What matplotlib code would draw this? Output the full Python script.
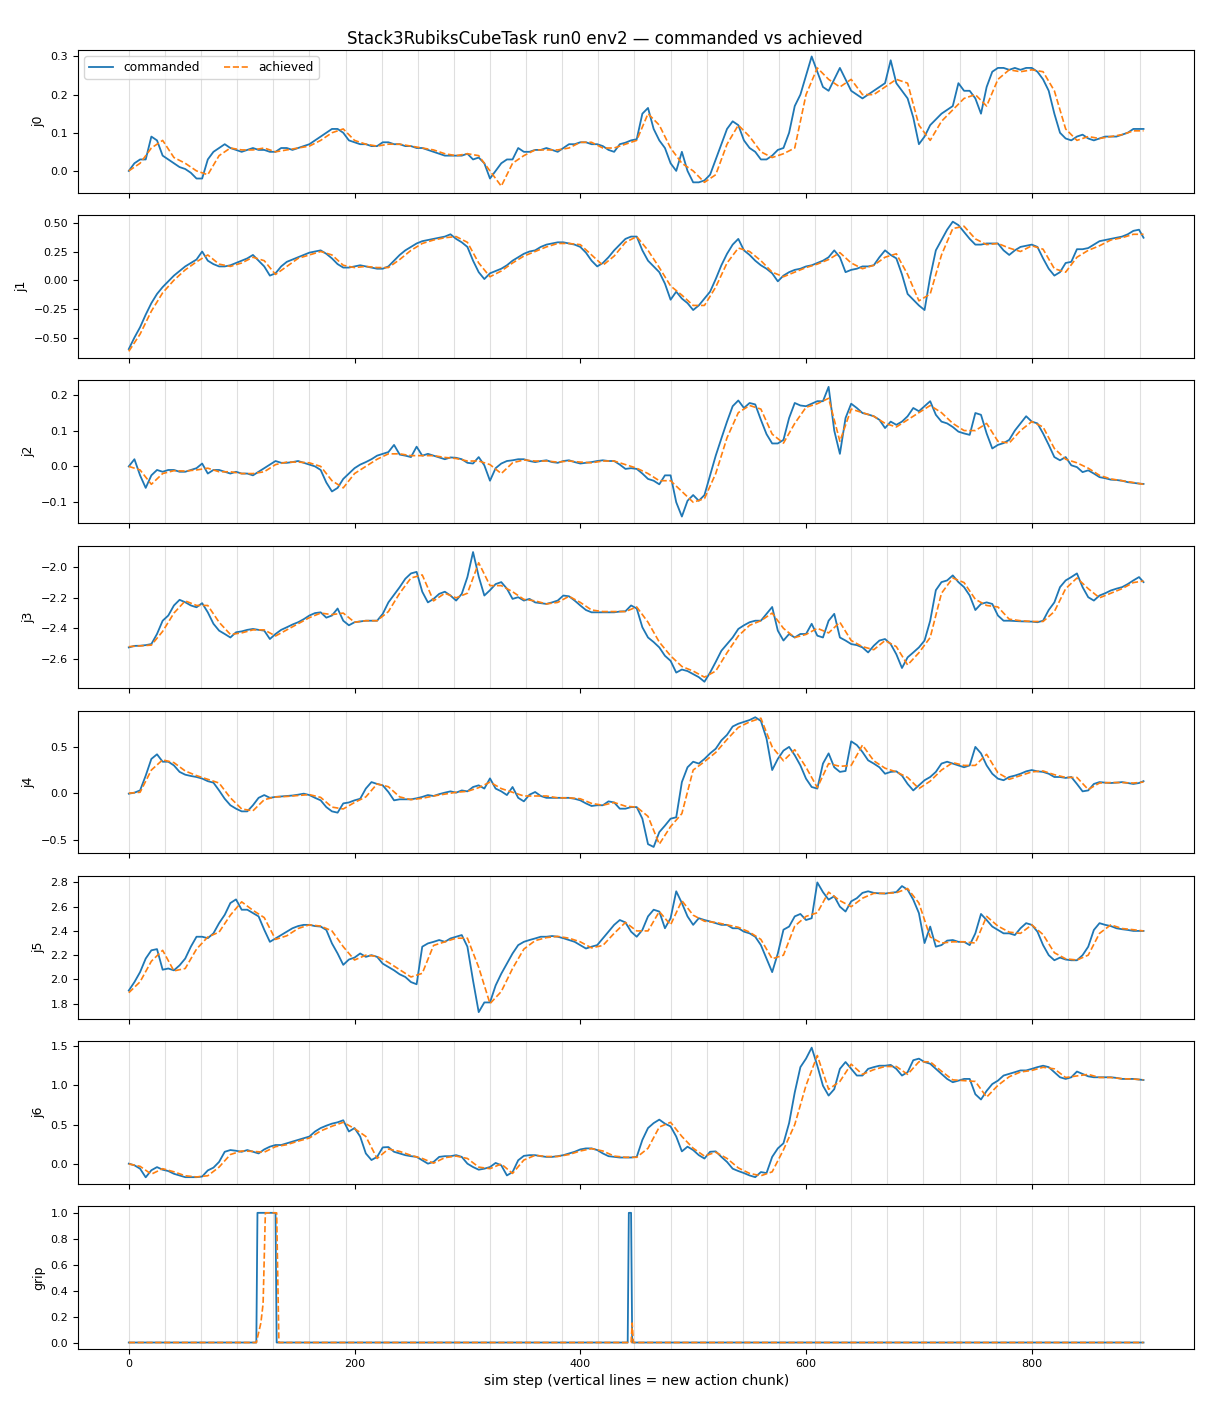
import numpy as np
import matplotlib
matplotlib.use("Agg")
import matplotlib.pyplot as plt

TITLE = "Stack3RubiksCubeTask run0 env2 \u2014 commanded vs achieved"
XLABEL = "sim step (vertical lines = new action chunk)"
JOINT_NAMES = ["j0", "j1", "j2", "j3", "j4", "j5", "j6"]
LAST_STEP = 899
CHUNK_LEN = 32
CMD_STEP = 5    # commanded values read every 5 sim steps
ACH_STEP = 10   # achieved values read every 10 sim steps

# ---------------- commanded (every 5 steps, last = step 899) ----------------
j0_cmd = [
    0.00, 0.02, 0.03, 0.03, 0.09, 0.08, 0.04, 0.03, 0.02, 0.01,
    0.005, -0.005, -0.02, -0.02, 0.03, 0.05, 0.06, 0.07, 0.06, 0.055,
    0.05, 0.055, 0.06, 0.055, 0.055, 0.05, 0.05, 0.06, 0.06, 0.055,
    0.06, 0.065, 0.07, 0.08, 0.09, 0.10, 0.11, 0.11, 0.10, 0.08,
    0.075, 0.07, 0.07, 0.065, 0.065, 0.075, 0.075, 0.07, 0.07, 0.065,
    0.065, 0.06, 0.06, 0.055, 0.05, 0.045, 0.04, 0.04, 0.04, 0.04,
    0.045, 0.03, 0.035, 0.02, -0.02, 0.0, 0.02, 0.03, 0.03, 0.06,
    0.05, 0.05, 0.055, 0.055, 0.06, 0.055, 0.05, 0.06, 0.07, 0.07,
    0.075, 0.075, 0.07, 0.07, 0.065, 0.055, 0.05, 0.07, 0.074, 0.08,
    0.083, 0.15, 0.165, 0.11, 0.08, 0.06, 0.02, 0.0, 0.05, 0.0,
    -0.03, -0.03, -0.025, -0.01, 0.03, 0.07, 0.11, 0.13, 0.12, 0.08,
    0.06, 0.05, 0.03, 0.03, 0.04, 0.055, 0.06, 0.10, 0.17, 0.20,
    0.25, 0.30, 0.26, 0.22, 0.21, 0.24, 0.27, 0.24, 0.21, 0.20,
    0.19, 0.20, 0.21, 0.22, 0.23, 0.29, 0.23, 0.21, 0.19, 0.14,
    0.07, 0.09, 0.12, 0.135, 0.15, 0.16, 0.17, 0.23, 0.21, 0.21,
    0.19, 0.15, 0.22, 0.26, 0.27, 0.27, 0.265, 0.27, 0.265, 0.27,
    0.27, 0.26, 0.24, 0.21, 0.15, 0.10, 0.085, 0.08, 0.09, 0.095,
    0.085, 0.08, 0.085, 0.09, 0.09, 0.09, 0.095, 0.10, 0.11, 0.11,
    0.11,
]
j1_cmd = [
    -0.60, -0.50, -0.41, -0.30, -0.20, -0.12, -0.06, -0.01, 0.04, 0.08,
    0.12, 0.15, 0.18, 0.25, 0.17, 0.14, 0.12, 0.12, 0.13, 0.15,
    0.17, 0.19, 0.22, 0.17, 0.12, 0.04, 0.06, 0.12, 0.16, 0.18,
    0.20, 0.22, 0.24, 0.25, 0.26, 0.23, 0.19, 0.14, 0.11, 0.11,
    0.12, 0.13, 0.12, 0.11, 0.10, 0.10, 0.12, 0.17, 0.22, 0.26,
    0.29, 0.32, 0.34, 0.35, 0.36, 0.37, 0.38, 0.40, 0.36, 0.33,
    0.29, 0.17, 0.07, 0.01, 0.06, 0.08, 0.10, 0.13, 0.17, 0.20,
    0.23, 0.25, 0.26, 0.29, 0.31, 0.32, 0.33, 0.33, 0.32, 0.31,
    0.29, 0.24, 0.17, 0.12, 0.15, 0.20, 0.26, 0.31, 0.36, 0.38,
    0.38, 0.26, 0.17, 0.12, 0.07, -0.03, -0.17, -0.10, -0.16, -0.20,
    -0.26, -0.22, -0.16, -0.10, 0.01, 0.13, 0.23, 0.31, 0.36, 0.26,
    0.22, 0.17, 0.13, 0.10, 0.06, -0.01, 0.04, 0.07, 0.09, 0.10,
    0.12, 0.13, 0.15, 0.17, 0.20, 0.26, 0.20, 0.07, 0.09, 0.10,
    0.12, 0.12, 0.13, 0.20, 0.26, 0.22, 0.19, 0.05, -0.12, -0.17,
    -0.22, -0.26, 0.03, 0.26, 0.35, 0.44, 0.51, 0.48, 0.42, 0.36,
    0.31, 0.31, 0.32, 0.32, 0.32, 0.26, 0.22, 0.26, 0.29, 0.30,
    0.31, 0.29, 0.19, 0.10, 0.04, 0.07, 0.15, 0.16, 0.27, 0.27,
    0.28, 0.31, 0.34, 0.35, 0.36, 0.37, 0.38, 0.40, 0.43, 0.44,
    0.37,
]
j2_cmd = [
    0.0, 0.02, -0.025, -0.06, -0.025, -0.01, -0.015, -0.01, -0.01, -0.015,
    -0.015, -0.01, -0.005, 0.008, -0.02, -0.01, -0.01, -0.015, -0.02, -0.015,
    -0.02, -0.02, -0.025, -0.015, -0.005, 0.005, 0.015, 0.01, 0.01, 0.012,
    0.015, 0.01, 0.005, 0.0, -0.01, -0.045, -0.07, -0.06, -0.035, -0.02,
    -0.005, 0.005, 0.012, 0.02, 0.03, 0.035, 0.04, 0.06, 0.033, 0.03,
    0.026, 0.055, 0.03, 0.035, 0.03, 0.025, 0.02, 0.025, 0.024, 0.02,
    0.01, 0.008, 0.026, 0.003, -0.04, -0.005, 0.008, 0.015, 0.017, 0.02,
    0.02, 0.015, 0.012, 0.015, 0.017, 0.012, 0.01, 0.015, 0.017, 0.012,
    0.008, 0.01, 0.012, 0.015, 0.017, 0.015, 0.015, 0.005, -0.007, -0.005,
    -0.007, -0.02, -0.035, -0.04, -0.05, -0.025, -0.025, -0.10, -0.14, -0.096,
    -0.08, -0.096, -0.08, -0.025, 0.03, 0.078, 0.125, 0.168, 0.184, 0.163,
    0.177, 0.173, 0.13, 0.09, 0.064, 0.064, 0.074, 0.135, 0.177, 0.17,
    0.168, 0.175, 0.182, 0.182, 0.222, 0.10, 0.035, 0.135, 0.175, 0.163,
    0.149, 0.145, 0.14, 0.13, 0.107, 0.125, 0.116, 0.125, 0.14, 0.163,
    0.154, 0.168, 0.182, 0.144, 0.125, 0.12, 0.11, 0.097, 0.092, 0.088,
    0.149, 0.144, 0.092, 0.05, 0.06, 0.065, 0.074, 0.10, 0.12, 0.14,
    0.125, 0.12, 0.092, 0.06, 0.026, 0.017, 0.026, 0.003, -0.002, -0.016,
    -0.011, -0.02, -0.03, -0.033, -0.037, -0.038, -0.04, -0.044, -0.046, -0.048,
    -0.049,
]
j3_cmd = [
    -2.525, -2.515, -2.514, -2.51, -2.503, -2.437, -2.35, -2.316, -2.25, -2.213,
    -2.229, -2.25, -2.262, -2.235, -2.295, -2.37, -2.415, -2.437, -2.46, -2.426,
    -2.42, -2.41, -2.404, -2.41, -2.415, -2.47, -2.437, -2.41, -2.393, -2.375,
    -2.36, -2.34, -2.316, -2.30, -2.295, -2.33, -2.316, -2.27, -2.35, -2.38,
    -2.36, -2.355, -2.35, -2.35, -2.35, -2.305, -2.23, -2.18, -2.13, -2.075,
    -2.04, -2.03, -2.16, -2.23, -2.207, -2.174, -2.16, -2.185, -2.218, -2.174,
    -2.064, -1.90, -2.06, -2.185, -2.15, -2.11, -2.097, -2.14, -2.207, -2.196,
    -2.218, -2.207, -2.23, -2.235, -2.24, -2.23, -2.218, -2.185, -2.19, -2.218,
    -2.25, -2.28, -2.295, -2.295, -2.295, -2.295, -2.295, -2.29, -2.288, -2.25,
    -2.27, -2.393, -2.46, -2.49, -2.525, -2.58, -2.613, -2.69, -2.67, -2.68,
    -2.70, -2.72, -2.75, -2.69, -2.62, -2.547, -2.503, -2.46, -2.404, -2.38,
    -2.36, -2.35, -2.35, -2.305, -2.26, -2.415, -2.48, -2.437, -2.46, -2.437,
    -2.437, -2.37, -2.448, -2.46, -2.35, -2.305, -2.46, -2.48, -2.503, -2.51,
    -2.525, -2.558, -2.514, -2.48, -2.47, -2.503, -2.57, -2.66, -2.59, -2.558,
    -2.525, -2.48, -2.35, -2.15, -2.097, -2.086, -2.053, -2.097, -2.13, -2.185,
    -2.28, -2.24, -2.23, -2.24, -2.316, -2.35, -2.35, -2.352, -2.354, -2.355,
    -2.356, -2.36, -2.35, -2.28, -2.23, -2.13, -2.086, -2.064, -2.04, -2.13,
    -2.196, -2.218, -2.185, -2.17, -2.152, -2.14, -2.13, -2.11, -2.086, -2.064,
    -2.097,
]
j4_cmd = [
    -0.005, 0.006, 0.03, 0.19, 0.37, 0.42, 0.34, 0.34, 0.30, 0.23,
    0.20, 0.186, 0.175, 0.158, 0.13, 0.114, 0.03, -0.06, -0.13, -0.167,
    -0.196, -0.196, -0.13, -0.05, -0.02, -0.05, -0.04, -0.035, -0.03, -0.025,
    -0.016, -0.005, -0.02, -0.05, -0.077, -0.15, -0.196, -0.21, -0.11, -0.10,
    -0.077, -0.06, 0.05, 0.12, 0.10, 0.085, 0.013, -0.077, -0.066, -0.066,
    -0.066, -0.055, -0.04, -0.02, -0.03, -0.01, 0.006, 0.02, 0.006, 0.03,
    0.02, 0.067, 0.085, 0.05, 0.16, 0.05, 0.02, -0.02, 0.067, -0.05,
    -0.088, -0.016, 0.013, -0.03, -0.05, -0.05, -0.05, -0.05, -0.05, -0.06,
    -0.077, -0.11, -0.138, -0.13, -0.13, -0.088, -0.10, -0.167, -0.167, -0.15,
    -0.15, -0.275, -0.55, -0.58, -0.42, -0.35, -0.275, -0.26, 0.12, 0.28,
    0.34, 0.32, 0.37, 0.43, 0.48, 0.57, 0.63, 0.72, 0.75, 0.77,
    0.79, 0.82, 0.78, 0.59, 0.25, 0.37, 0.46, 0.50, 0.41, 0.30,
    0.157, 0.067, 0.05, 0.32, 0.43, 0.28, 0.23, 0.24, 0.56, 0.52,
    0.445, 0.355, 0.32, 0.28, 0.21, 0.23, 0.236, 0.19, 0.10, 0.03,
    0.085, 0.14, 0.175, 0.23, 0.32, 0.34, 0.32, 0.30, 0.28, 0.30,
    0.50, 0.43, 0.30, 0.21, 0.157, 0.14, 0.175, 0.19, 0.21, 0.236,
    0.25, 0.236, 0.23, 0.21, 0.175, 0.175, 0.165, 0.175, 0.10, 0.02,
    0.03, 0.10, 0.12, 0.114, 0.11, 0.114, 0.12, 0.11, 0.10, 0.11,
    0.13,
]
j5_cmd = [
    1.908, 1.978, 2.06, 2.172, 2.24, 2.25, 2.08, 2.09, 2.075, 2.116,
    2.172, 2.27, 2.352, 2.352, 2.34, 2.38, 2.464, 2.533, 2.63, 2.66,
    2.575, 2.575, 2.547, 2.52, 2.41, 2.31, 2.338, 2.366, 2.394, 2.422,
    2.44, 2.45, 2.45, 2.44, 2.436, 2.408, 2.297, 2.214, 2.12, 2.164,
    2.18, 2.214, 2.186, 2.20, 2.186, 2.13, 2.103, 2.075, 2.042, 2.02,
    1.978, 1.96, 2.27, 2.297, 2.31, 2.325, 2.31, 2.338, 2.352, 2.366,
    2.27, 1.99, 1.73, 1.81, 1.81, 1.95, 2.047, 2.13, 2.214, 2.283,
    2.31, 2.325, 2.338, 2.352, 2.352, 2.358, 2.352, 2.34, 2.325, 2.31,
    2.283, 2.255, 2.27, 2.283, 2.338, 2.394, 2.45, 2.49, 2.47, 2.394,
    2.352, 2.408, 2.52, 2.575, 2.56, 2.422, 2.505, 2.727, 2.63, 2.52,
    2.45, 2.505, 2.49, 2.478, 2.464, 2.45, 2.45, 2.422, 2.422, 2.394,
    2.38, 2.352, 2.283, 2.172, 2.06, 2.214, 2.41, 2.436, 2.52, 2.54,
    2.49, 2.505, 2.80, 2.72, 2.658, 2.686, 2.60, 2.56, 2.644, 2.67,
    2.714, 2.727, 2.714, 2.71, 2.708, 2.715, 2.72, 2.77, 2.74, 2.658,
    2.547, 2.30, 2.436, 2.27, 2.283, 2.32, 2.325, 2.31, 2.31, 2.283,
    2.38, 2.54, 2.49, 2.436, 2.408, 2.38, 2.38, 2.366, 2.422, 2.464,
    2.45, 2.394, 2.283, 2.20, 2.158, 2.18, 2.164, 2.158, 2.158, 2.20,
    2.27, 2.408, 2.464, 2.45, 2.44, 2.422, 2.414, 2.408, 2.40, 2.40,
    2.40,
]
j6_cmd = [
    0.004, -0.017, -0.06, -0.17, -0.08, -0.04, -0.073, -0.09, -0.125, -0.146,
    -0.168, -0.168, -0.168, -0.16, -0.082, -0.047, 0.026, 0.155, 0.177, 0.168,
    0.155, 0.177, 0.155, 0.134, 0.185, 0.22, 0.241, 0.241, 0.263, 0.284,
    0.306, 0.327, 0.349, 0.413, 0.457, 0.487, 0.513, 0.53, 0.556, 0.413,
    0.457, 0.349, 0.134, 0.05, 0.09, 0.211, 0.215, 0.155, 0.134, 0.112,
    0.099, 0.09, 0.047, 0.004, 0.026, 0.09, 0.099, 0.099, 0.112, 0.09,
    0.004, -0.039, -0.073, -0.06, -0.039, 0.013, -0.017, -0.146, -0.103, 0.047,
    0.103, 0.112, 0.112, 0.099, 0.09, 0.09, 0.099, 0.112, 0.134, 0.155,
    0.185, 0.198, 0.198, 0.177, 0.134, 0.099, 0.09, 0.082, 0.082, 0.082,
    0.09, 0.306, 0.457, 0.52, 0.564, 0.513, 0.478, 0.349, 0.16, 0.22,
    0.177, 0.112, 0.069, 0.155, 0.16, 0.09, 0.026, -0.06, -0.09, -0.116,
    -0.146, -0.168, -0.103, -0.116, 0.09, 0.198, 0.263, 0.52, 0.91, 1.232,
    1.34, 1.48, 1.25, 0.995, 0.87, 0.952, 1.21, 1.297, 1.21, 1.125,
    1.125, 1.21, 1.232, 1.25, 1.25, 1.26, 1.21, 1.125, 1.168, 1.32,
    1.34, 1.297, 1.275, 1.21, 1.146, 1.082, 1.04, 1.06, 1.082, 1.082,
    0.887, 0.82, 0.93, 1.017, 1.06, 1.125, 1.146, 1.168, 1.19, 1.19,
    1.21, 1.232, 1.25, 1.232, 1.168, 1.103, 1.082, 1.103, 1.176, 1.146,
    1.115, 1.103, 1.103, 1.103, 1.103, 1.095, 1.082, 1.082, 1.082, 1.075,
    1.068,
]

# ---------------- achieved (every 10 steps, last = step 899) ----------------
j0_ach = [
    0.0, 0.02, 0.06, 0.08, 0.035, 0.02, 0.0, -0.01, 0.04, 0.06,
    0.055, 0.055, 0.06, 0.05, 0.055, 0.06, 0.065, 0.08, 0.10, 0.11,
    0.08, 0.07, 0.065, 0.07, 0.07, 0.065, 0.06, 0.055, 0.045, 0.04,
    0.045, 0.04, 0.0, -0.04, 0.02, 0.04, 0.055, 0.055, 0.055, 0.06,
    0.075, 0.075, 0.06, 0.06, 0.07, 0.08, 0.15, 0.12, 0.06, 0.02,
    0.0, -0.03, -0.01, 0.07, 0.12, 0.09, 0.05, 0.035, 0.045, 0.06,
    0.20, 0.27, 0.24, 0.22, 0.24, 0.20, 0.20, 0.22, 0.24, 0.23,
    0.12, 0.08, 0.13, 0.16, 0.19, 0.20, 0.17, 0.24, 0.265, 0.26,
    0.265, 0.26, 0.21, 0.11, 0.08, 0.09, 0.085, 0.09, 0.095, 0.105,
    0.105,
]
j1_ach = [
    -0.62, -0.47, -0.27, -0.11, 0.0, 0.09, 0.16, 0.22, 0.14, 0.12,
    0.15, 0.20, 0.17, 0.05, 0.12, 0.19, 0.22, 0.25, 0.22, 0.13,
    0.11, 0.12, 0.11, 0.11, 0.18, 0.26, 0.32, 0.35, 0.37, 0.38,
    0.33, 0.15, 0.03, 0.08, 0.15, 0.21, 0.25, 0.29, 0.32, 0.32,
    0.31, 0.22, 0.13, 0.21, 0.33, 0.38, 0.26, 0.11, -0.05, -0.13,
    -0.22, -0.22, -0.06, 0.15, 0.28, 0.25, 0.17, 0.07, 0.03, 0.07,
    0.11, 0.14, 0.18, 0.24, 0.15, 0.10, 0.13, 0.20, 0.23, 0.05,
    -0.18, -0.12, 0.22, 0.45, 0.47, 0.36, 0.31, 0.32, 0.28, 0.25,
    0.30, 0.27, 0.10, 0.07, 0.20, 0.26, 0.30, 0.35, 0.37, 0.40,
    0.40,
]
j2_ach = [
    0.0, -0.01, -0.05, -0.02, -0.012, -0.013, -0.01, -0.005, -0.015, -0.015,
    -0.02, -0.02, -0.015, 0.005, 0.012, 0.012, 0.01, 0.0, -0.04, -0.06,
    -0.02, 0.0, 0.02, 0.035, 0.035, 0.03, 0.03, 0.03, 0.025, 0.022,
    0.015, 0.015, 0.005, -0.02, 0.01, 0.018, 0.015, 0.015, 0.012, 0.015,
    0.012, 0.01, 0.015, 0.015, 0.005, -0.005, -0.02, -0.04, -0.04, -0.07,
    -0.10, -0.09, -0.02, 0.08, 0.15, 0.17, 0.16, 0.09, 0.065, 0.12,
    0.165, 0.175, 0.19, 0.07, 0.16, 0.15, 0.14, 0.12, 0.11, 0.13,
    0.15, 0.17, 0.15, 0.12, 0.10, 0.10, 0.12, 0.07, 0.065, 0.10,
    0.125, 0.11, 0.05, 0.02, 0.01, -0.005, -0.025, -0.035, -0.04, -0.045,
    -0.05,
]
j3_ach = [
    -2.52, -2.515, -2.51, -2.42, -2.30, -2.22, -2.25, -2.25, -2.36, -2.44,
    -2.43, -2.41, -2.41, -2.45, -2.41, -2.37, -2.33, -2.30, -2.31, -2.30,
    -2.36, -2.35, -2.35, -2.29, -2.17, -2.07, -2.05, -2.22, -2.17, -2.20,
    -2.17, -1.97, -2.12, -2.12, -2.16, -2.21, -2.22, -2.24, -2.23, -2.19,
    -2.23, -2.28, -2.29, -2.29, -2.29, -2.26, -2.36, -2.49, -2.58, -2.65,
    -2.68, -2.72, -2.68, -2.56, -2.45, -2.38, -2.35, -2.30, -2.40, -2.46,
    -2.44, -2.40, -2.43, -2.36, -2.48, -2.52, -2.54, -2.48, -2.52, -2.64,
    -2.56, -2.46, -2.17, -2.07, -2.10, -2.21, -2.25, -2.26, -2.34, -2.35,
    -2.355, -2.355, -2.29, -2.14, -2.07, -2.14, -2.20, -2.17, -2.14, -2.10,
    -2.09,
]
j4_ach = [
    0.0, 0.01, 0.25, 0.36, 0.33, 0.24, 0.19, 0.15, 0.11, -0.05,
    -0.17, -0.19, -0.07, -0.04, -0.035, -0.025, -0.015, -0.045, -0.15, -0.17,
    -0.10, -0.04, 0.10, 0.07, -0.04, -0.07, -0.055, -0.03, -0.01, 0.01,
    0.02, 0.06, 0.12, 0.05, 0.01, -0.03, -0.03, -0.03, -0.05, -0.05,
    -0.06, -0.11, -0.13, -0.10, -0.14, -0.15, -0.25, -0.55, -0.36, -0.22,
    0.25, 0.34, 0.44, 0.58, 0.71, 0.77, 0.81, 0.50, 0.35, 0.47,
    0.28, 0.06, 0.32, 0.29, 0.30, 0.52, 0.35, 0.27, 0.23, 0.17,
    0.05, 0.13, 0.25, 0.33, 0.30, 0.30, 0.42, 0.22, 0.15, 0.19,
    0.23, 0.24, 0.20, 0.17, 0.17, 0.04, 0.11, 0.115, 0.115, 0.11,
    0.12,
]
j5_ach = [
    1.89, 1.98, 2.15, 2.24, 2.07, 2.09, 2.25, 2.35, 2.39, 2.53,
    2.64, 2.57, 2.51, 2.33, 2.36, 2.42, 2.45, 2.44, 2.40, 2.27,
    2.16, 2.20, 2.19, 2.14, 2.08, 2.02, 2.05, 2.28, 2.31, 2.34,
    2.34, 2.10, 1.80, 1.90, 2.09, 2.25, 2.32, 2.345, 2.355, 2.34,
    2.31, 2.26, 2.28, 2.38, 2.47, 2.40, 2.40, 2.56, 2.45, 2.65,
    2.53, 2.48, 2.47, 2.45, 2.43, 2.39, 2.33, 2.17, 2.20, 2.44,
    2.52, 2.55, 2.72, 2.65, 2.60, 2.67, 2.71, 2.71, 2.715, 2.75,
    2.63, 2.35, 2.30, 2.31, 2.31, 2.30, 2.52, 2.44, 2.39, 2.38,
    2.45, 2.37, 2.22, 2.17, 2.16, 2.20, 2.38, 2.45, 2.42, 2.41,
    2.40,
]
j6_ach = [
    0.0, -0.03, -0.13, -0.06, -0.10, -0.15, -0.165, -0.15, -0.04, 0.12,
    0.165, 0.16, 0.15, 0.22, 0.245, 0.29, 0.33, 0.42, 0.48, 0.53,
    0.45, 0.35, 0.07, 0.19, 0.16, 0.11, 0.07, 0.01, 0.08, 0.10,
    0.07, -0.04, -0.06, 0.0, -0.12, 0.05, 0.11, 0.095, 0.095, 0.12,
    0.165, 0.195, 0.165, 0.10, 0.085, 0.085, 0.20, 0.47, 0.53, 0.35,
    0.20, 0.10, 0.15, 0.07, -0.05, -0.12, -0.15, -0.10, 0.18, 0.50,
    1.00, 1.38, 0.95, 1.05, 1.27, 1.14, 1.20, 1.24, 1.24, 1.14,
    1.30, 1.30, 1.18, 1.07, 1.06, 1.05, 0.85, 1.00, 1.11, 1.17,
    1.19, 1.23, 1.21, 1.10, 1.12, 1.14, 1.10, 1.10, 1.085, 1.08,
    1.07,
]

# ---------------- gripper (change points) ----------------
grip_cmd_x = [0, 113, 114, 130, 131, 442, 443, 445, 446, 899]
grip_cmd_y = [0, 0, 1, 1, 0, 0, 1, 1, 0, 0]
grip_ach_x = [0, 113, 117, 119, 121, 131, 133, 445, 446, 447, 899]
grip_ach_y = [0, 0, 0.15, 0.3, 1, 1, 0, 0, 0.15, 0, 0]

CMD = [j0_cmd, j1_cmd, j2_cmd, j3_cmd, j4_cmd, j5_cmd, j6_cmd]
ACH = [j0_ach, j1_ach, j2_ach, j3_ach, j4_ach, j5_ach, j6_ach]


def step_axis(values, every):
    return np.append(np.arange(len(values) - 1) * every, LAST_STEP)


fig, axes = plt.subplots(8, 1, figsize=(12.1, 14.08), dpi=100, sharex=True)
fig.subplots_adjust(left=0.0645, right=0.987, top=0.9645, bottom=0.0419,
                    hspace=0.158)

chunk_starts = np.arange(0, LAST_STEP + 1, CHUNK_LEN)


def decorate(ax):
    for c in chunk_starts:
        ax.axvline(c, color="0.5", alpha=0.25, lw=0.8, zorder=0)
    ax.tick_params(labelsize=8)


for ax, name, cmd, ach in zip(axes[:7], JOINT_NAMES, CMD, ACH):
    decorate(ax)
    ax.plot(step_axis(cmd, CMD_STEP), cmd, color="C0", lw=1.3,
            label="commanded")
    ax.plot(step_axis(ach, ACH_STEP), ach, color="C1", lw=1.2, ls="--",
            label="achieved")
    ax.set_ylabel(name, fontsize=9)

gax = axes[7]
decorate(gax)
gax.plot(grip_cmd_x, grip_cmd_y, color="C0", lw=1.3, label="commanded")
gax.plot(grip_ach_x, grip_ach_y, color="C1", lw=1.2, ls="--",
         label="achieved")
gax.set_ylabel("grip", fontsize=9)
gax.set_xlabel(XLABEL, fontsize=10)

axes[0].legend(loc="upper left", ncol=2, fontsize=8.8)
fig.suptitle(TITLE, fontsize=12, y=0.979)

fig.savefig("out.png", dpi=100)
